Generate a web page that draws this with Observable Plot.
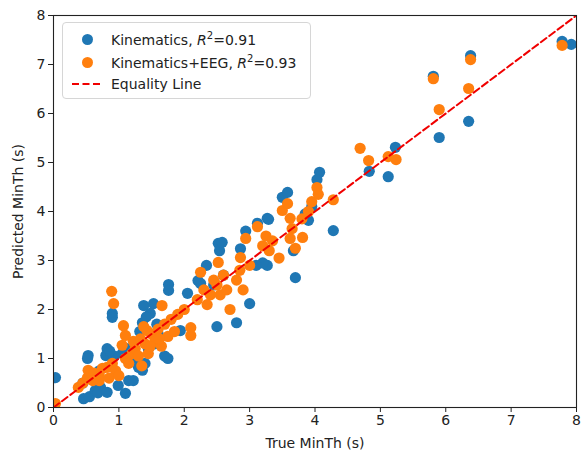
<!DOCTYPE html>
<html>
<head>
<meta charset="utf-8">
<script src="https://cdn.jsdelivr.net/npm/d3@7"></script>
<script src="https://cdn.jsdelivr.net/npm/@observablehq/plot@0.6"></script>
<style>
  body { margin: 0; background: #fff; }
  #chart { position: relative; width: 582px; height: 455px; font-family: "DejaVu Sans", sans-serif; }
  .legend { position: absolute; left: 62px; top: 22px; width: 247px; height: 75px; border: 1px solid #d6d6d6; border-radius: 4px; background: rgba(255,255,255,0.8); font-size: 14px; color: #222; }
  .item { position: absolute; left: 0; height: 20px; display: flex; align-items: center; }
  .sym { width: 48px; display: flex; justify-content: center; align-items: center; }
  .dotsym { width: 11px; height: 11px; border-radius: 50%; }
</style>
</head>
<body>
<div id="chart"></div>
<script>
const kinTrue = [0.03,0.46,0.55,0.64,0.72,0.68,0.82,0.99,1.10,1.15,1.22,1.36,1.30,0.53,0.52,0.82,0.80,0.93,0.60,0.70,0.45,0.86,1.05,1.12,1.25,1.40,1.45,1.55,1.70,1.75,1.60,0.90,0.90,1.38,1.53,1.48,1.36,1.94,1.76,1.76,2.05,2.25,2.34,2.21,2.52,2.54,2.86,2.94,3.27,3.27,3.00,2.80,2.50,2.58,3.12,3.29,3.50,3.58,3.67,3.90,3.70,4.07,4.03,4.28,3.95,3.85,3.20,3.10,2.45,2.60,4.83,5.12,5.23,5.81,5.90,6.35,6.38,7.78,7.92,1.32,1.42,1.58];
const kinPred = [0.61,0.18,0.22,0.35,0.41,0.30,0.31,0.45,0.29,0.55,0.55,0.76,0.82,1.06,1.00,1.20,1.06,1.05,0.60,0.75,0.50,1.15,1.10,1.20,1.00,0.90,1.20,1.30,1.05,1.00,1.50,1.92,1.84,2.08,2.12,1.92,1.73,1.57,2.51,2.39,2.33,2.53,2.90,2.59,3.35,3.20,3.24,3.60,3.86,2.90,2.12,1.73,1.65,3.37,3.76,3.84,4.29,4.39,3.20,3.82,2.65,4.80,4.65,3.61,4.10,3.95,2.95,2.90,2.50,2.70,4.82,4.71,5.31,6.76,5.51,5.84,7.18,7.47,7.41,1.55,1.85,1.70];

const eegTrue = [0.03,0.38,0.45,0.52,0.53,0.62,0.70,0.75,0.82,0.90,0.95,0.60,0.70,0.85,1.05,1.07,1.10,1.00,1.10,1.15,1.20,1.25,1.30,1.35,1.40,1.45,1.50,1.55,1.60,1.65,1.70,1.75,1.80,1.85,0.89,0.92,1.66,1.43,2.10,2.10,1.90,2.00,2.25,2.20,2.30,2.35,2.40,2.45,2.50,2.55,2.60,2.52,2.65,2.70,2.80,2.85,2.90,2.94,2.86,3.00,3.12,3.20,3.25,3.30,3.35,3.45,3.50,3.58,3.62,3.65,3.81,3.62,3.70,3.80,3.90,3.95,4.03,4.05,4.28,4.69,4.82,5.12,5.24,5.81,5.90,6.35,6.38,7.78,1.22,1.33,1.48,1.62,1.38];
const eegPred = [0.08,0.41,0.50,0.61,0.76,0.70,0.65,0.80,0.82,0.90,0.75,0.55,0.55,0.60,1.27,1.67,1.47,0.65,1.00,0.90,1.10,1.20,1.05,0.85,1.30,1.10,1.50,1.35,1.60,1.25,1.70,1.45,1.80,1.55,2.37,2.12,2.08,1.57,1.63,1.47,1.90,2.00,2.76,2.20,2.40,2.10,2.30,2.60,2.50,2.30,2.70,2.96,2.40,2.00,2.60,2.80,2.40,3.45,3.06,2.90,3.69,3.30,3.50,3.20,3.40,3.05,4.02,4.16,3.86,3.65,3.47,3.45,3.25,3.85,4.00,4.20,4.49,4.35,4.24,5.29,5.04,5.12,5.06,6.71,6.08,6.51,7.10,7.39,1.35,1.40,1.25,1.40,1.65];

const xTicks = [0,1,2,3,4,5,6,7,8];
const yTicks = [0,1,2,3,4,5,6,7,8];
const axisMax = 8;

const kin = kinTrue.map((x, i) => ({x, y: kinPred[i]}));
const eeg = eegTrue.map((x, i) => ({x, y: eegPred[i]}));
const equality = [{x: 0, y: 0}, {x: axisMax, y: axisMax}];

const plot = Plot.plot({
  width: 582,
  height: 455,
  marginLeft: 53,
  marginRight: 6,
  marginTop: 15,
  marginBottom: 48,
  style: {fontFamily: "DejaVu Sans, sans-serif", fontSize: "13.5px", color: "#222", background: "#fff"},
  x: {domain: [0, axisMax], ticks: xTicks, tickSize: 5, tickPadding: 3, label: "True MinTh (s)", labelArrow: "none", labelAnchor: "center", labelOffset: 40},
  y: {domain: [0, axisMax], ticks: yTicks, tickSize: 5, tickPadding: 3, label: "Predicted MinTh (s)", labelArrow: "none", labelAnchor: "center", labelOffset: 40},
  marks: [
    Plot.dot(kin, {x: "x", y: "y", r: 5.6, fill: "#1f77b4", clip: true}),
    Plot.dot(eeg, {x: "x", y: "y", r: 5.6, fill: "#ff7f0e", clip: true}),
    Plot.line(equality, {x: "x", y: "y", stroke: "#f00000", strokeWidth: 2, strokeDasharray: "7,3.5", clip: true}),
    Plot.frame({stroke: "#222", strokeWidth: 1.1})
  ]
});

const chart = document.getElementById("chart");
chart.appendChild(plot);
d3.select(plot).selectAll("[aria-label$='axis label'] text, [aria-label$='label'] text").style("font-size", "14px");

const legend = document.createElement("div");
legend.className = "legend";
legend.innerHTML = `
  <div class="item" style="top:6px"><div class="sym"><div class="dotsym" style="background:#1f77b4"></div></div><span>Kinematics, <i>R</i><sup style="font-size:10px">2</sup>=0.91</span></div>
  <div class="item" style="top:29px"><div class="sym"><div class="dotsym" style="background:#ff7f0e"></div></div><span>Kinematics+EEG, <i>R</i><sup style="font-size:10px">2</sup>=0.93</span></div>
  <div class="item" style="top:51px"><div class="sym"><svg width="30" height="4"><line x1="0" y1="2" x2="30" y2="2" stroke="#f00000" stroke-width="2" stroke-dasharray="7,3.5"/></svg></div><span>Equality Line</span></div>`;
chart.appendChild(legend);
</script>
</body>
</html>
